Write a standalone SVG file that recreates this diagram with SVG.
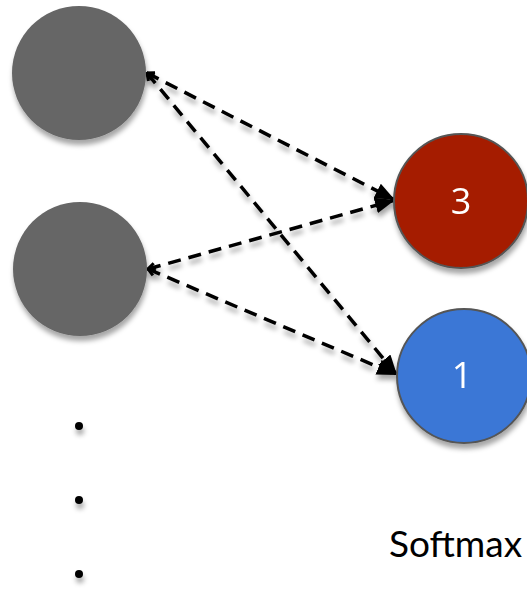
<svg xmlns="http://www.w3.org/2000/svg" width="527" height="598" viewBox="0 0 527 598">
  <style>
    .in { fill: #666666; }
    .out { stroke: #555555; stroke-width: 2; }
    .num { font-family: "Open Sans", "Liberation Sans", sans-serif; font-weight: 400; font-size: 36px; fill: #ffffff; text-anchor: middle; }
    .edge { fill: none; stroke: #000000; stroke-width: 3.5; stroke-dasharray: 13 8; marker-end: url(#head); marker-start: url(#tail); }
    .dot { fill: #000000; }
    .label { font-family: Lato, "Liberation Sans", sans-serif; font-size: 37px; fill: #000000; }
  </style>
  <defs>
    <filter id="shadow" x="-20%" y="-20%" width="140%" height="150%">
      <feDropShadow dx="1" dy="5" stdDeviation="2.5" flood-color="#000000" flood-opacity="0.35"/>
    </filter>
    <marker id="head" viewBox="0 0 20 16" refX="20" refY="8" markerWidth="20" markerHeight="16" markerUnits="userSpaceOnUse" orient="auto">
      <path d="M0,0 L20,8 L0,16 Z" fill="#000000"/>
    </marker>
    <marker id="tail" viewBox="-1 -6 10 12" refX="0" refY="0" markerWidth="10" markerHeight="12" markerUnits="userSpaceOnUse" orient="auto">
      <path d="M7,-4 L0,0 L7,4" fill="none" stroke="#000000" stroke-width="3"/>
    </marker>
  </defs>

  <g filter="url(#shadow)">
    <!-- connectors -->
    <g id="connectors">
      <line class="edge" x1="147" y1="73" x2="395" y2="200"/>
      <line class="edge" x1="147" y1="73" x2="397" y2="375"/>
      <line class="edge" x1="148" y1="269" x2="395" y2="200"/>
      <line class="edge" x1="148" y1="269" x2="397" y2="375"/>
    </g>

    <!-- input neurons -->
    <g id="input-1">
      <circle class="in" cx="79" cy="73" r="67"/>
    </g>
    <g id="input-2">
      <circle class="in" cx="80" cy="269" r="67"/>
    </g>

    <!-- output neurons -->
    <g id="output-3">
      <circle class="out" cx="461" cy="201" r="67" fill="#a51d00"/>
      <text class="num" x="461" y="214">3</text>
    </g>
    <g id="output-1">
      <circle class="out" cx="464" cy="376" r="67" fill="#3a77d6"/>
      <text class="num" x="462" y="388">1</text>
    </g>

    <!-- ellipsis -->
    <g id="ellipsis">
      <circle class="dot" cx="79" cy="426" r="4"/>
      <circle class="dot" cx="79" cy="500" r="4"/>
      <circle class="dot" cx="79" cy="574" r="4"/>
    </g>
  </g>

  <g id="softmax-label">
    <text class="label" x="389" y="557">Softmax</text>
  </g>
</svg>
